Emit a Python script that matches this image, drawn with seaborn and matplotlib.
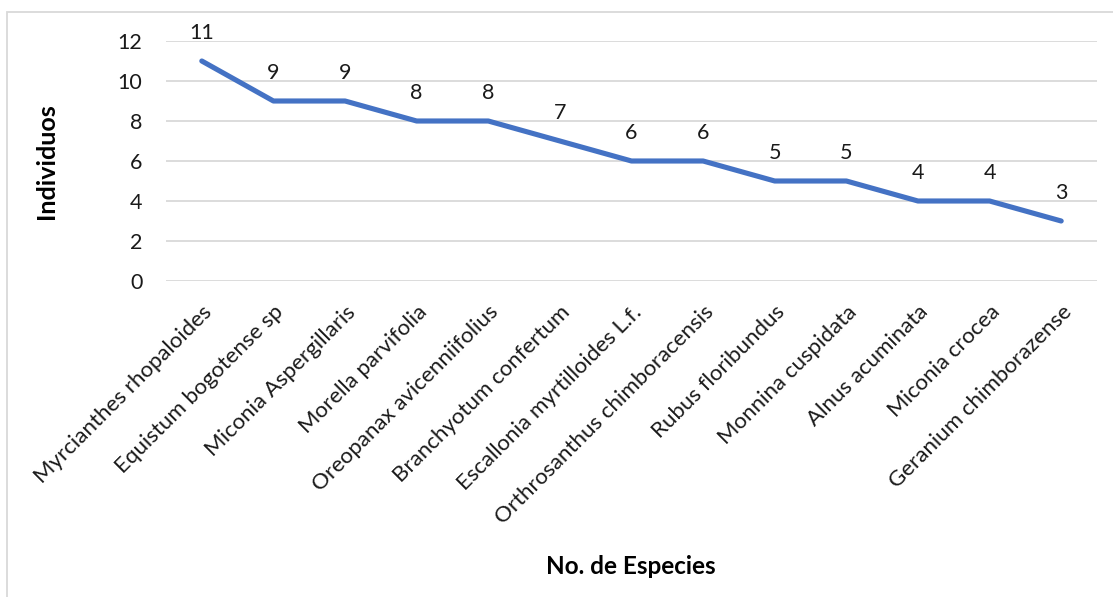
import matplotlib
matplotlib.use("Agg")
import matplotlib.pyplot as plt
from matplotlib.patches import Rectangle
import seaborn as sns
import pandas as pd

especies = [
    "Myrcianthes rhopaloides",
    "Equistum bogotense sp",
    "Miconia Aspergillaris",
    "Morella parvifolia",
    "Oreopanax avicenniifolius",
    "Branchyotum confertum",
    "Escallonia myrtilloides L.f.",
    "Orthrosanthus chimboracensis",
    "Rubus floribundus",
    "Monnina cuspidata",
    "Alnus acuminata",
    "Miconia crocea",
    "Geranium chimborazense",
]
individuos = [11, 9, 9, 8, 8, 7, 6, 6, 5, 5, 4, 4, 3]
y_ticks = [0, 2, 4, 6, 8, 10, 12]

sns.set_theme(style="white")
plt.rcParams["font.family"] = ["Lato", "DejaVu Sans"]

df = pd.DataFrame({"especie": especies, "individuos": individuos})

W, H = 1113, 597
fig = plt.figure(figsize=(W / 100, H / 100), dpi=100)
ax = fig.add_axes([166 / W, 1 - 281 / H, (1097 - 166) / W, (281 - 41) / H])

line_color = "#4472C4"
sns.lineplot(data=df, x="especie", y="individuos", sort=False, ax=ax,
             color=line_color, linewidth=3.7, solid_capstyle="round",
             solid_joinstyle="round")

text_color = "#1a1a1a"
ax.set_xlim(-0.5, len(especies) - 0.5)
ax.set_ylim(0, 12)
ax.set_yticks(y_ticks)
ax.set_yticklabels([str(t) for t in y_ticks], fontsize=15.5, color=text_color)
ax.yaxis.grid(True, color="#d9d9d9", linewidth=1.3)
ax.xaxis.grid(False)
for s in ax.spines.values():
    s.set_visible(False)
ax.tick_params(axis="both", length=0)
ax.tick_params(axis="y", pad=17)

ax.set_xticks(range(len(especies)))
ax.set_xticklabels(especies, rotation=45, ha="right", rotation_mode="anchor",
                   fontsize=16, color=text_color)
ax.tick_params(axis="x", pad=15)

# value labels above each point
for i, v in enumerate(individuos):
    ax.annotate(str(v), (i, v), xytext=(0, 20.5), textcoords="offset points",
                ha="center", va="center", fontsize=15.5, color=text_color)

ax.set_xlabel("No. de Especies", fontsize=17.5, fontweight="bold", color="#000000")
ax.xaxis.set_label_coords((631 - 166) / (1097 - 166), -(555 - 281) / (281 - 41))
ax.set_ylabel("Individuos", fontsize=18, fontweight="bold", color="#000000")
ax.yaxis.set_label_coords(-(166 - 58) / (1097 - 166), 0.5)

# chart area frame
fig.patches.append(Rectangle((7 / W, -0.2), 1.2, 1.2 - 12 / H,
                             transform=fig.transFigure, fill=False,
                             edgecolor="#d9d9d9", linewidth=1.3))

fig.savefig("out.png", dpi=100, facecolor="white")
